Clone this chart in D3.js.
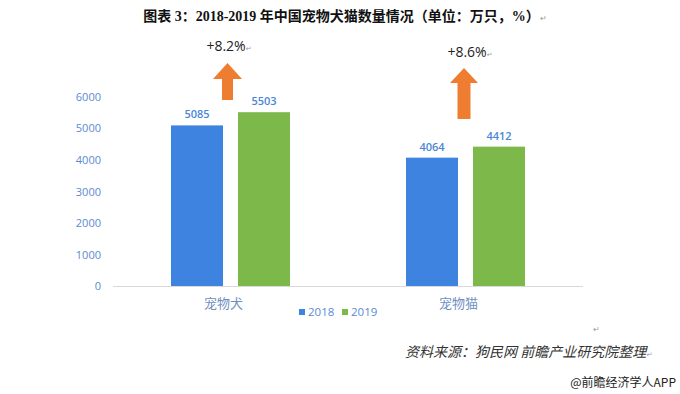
<!DOCTYPE html>
<html><head><meta charset="utf-8">
<script src="https://cdn.jsdelivr.net/npm/d3@7"></script>
<style>html,body{margin:0;padding:0;background:#fff;}svg{display:block;}</style>
</head><body>
<script>
const categories = ["宠物犬", "宠物猫"];
const years = ["2018", "2019"];
const values2018 = [5085, 4064];
const values2019 = [5503, 4412];
const growthLabels = ["+8.2%", "+8.6%"];
const yTicks = [0, 1000, 2000, 3000, 4000, 5000, 6000];
const titleText = "图表 3：2018-2019 年中国宠物犬猫数量情况（单位：万只，%）";
const sourceText = "资料来源：狗民网 前瞻产业研究院整理";
const brandText = "@前瞻经济学人APP";

const W = 680, H = 394;
const colors = {"2018": "#3f83e0", "2019": "#7db84a"};
const svg = d3.select("body").append("svg").attr("width", W).attr("height", H);

const x0 = d3.scaleBand().domain(categories).range([113, 583]).padding(0);
const x1 = d3.scaleBand().domain(years).range([58, 177]).paddingInner(0.224).paddingOuter(0);
const y = d3.scaleLinear().domain([0, 6000]).range([286, 96.5]);

// title
const t = svg.append("text").attr("x", 345).attr("y", 21).attr("text-anchor", "middle")
  .style("font-family", "'Liberation Serif','Noto Sans CJK SC',serif").style("font-weight", "bold")
  .style("font-size", "14px").attr("fill", "#111");
t.append("tspan").text(titleText);
t.append("tspan").text("↵").style("font-size", "8px").style("font-weight", "normal").attr("fill", "#999");

// y axis labels
const yAxis = d3.axisLeft(y).tickValues(yTicks).tickFormat(d3.format("d")).tickSize(0).tickPadding(0);
const gy = svg.append("g").attr("transform", "translate(101,0)").call(yAxis);
gy.select(".domain").remove();
gy.selectAll("text").style("font-family", "'Open Sans','DejaVu Sans',sans-serif").style("font-size", "11px")
  .attr("fill", "#5a8ad0").attr("dy", "0.35em");

// baseline
svg.append("line").attr("x1", 113).attr("x2", 583).attr("y1", y(0) + 0.5).attr("y2", y(0) + 0.5)
  .attr("stroke", "#d9d9d9").attr("stroke-width", 1);

const data = categories.map((c, i) => ({cat: c, vals: [
  {year: "2018", v: values2018[i]}, {year: "2019", v: values2019[i]}]}));

const g = svg.append("g").selectAll("g").data(data).join("g")
  .attr("transform", d => `translate(${x0(d.cat)},0)`);
g.selectAll("rect").data(d => d.vals).join("rect")
  .attr("x", d => x1(d.year)).attr("width", x1.bandwidth())
  .attr("y", d => y(d.v)).attr("height", d => y(0) - y(d.v))
  .attr("fill", d => colors[d.year]);
g.selectAll("text.val").data(d => d.vals).join("text").attr("class", "val")
  .attr("x", d => x1(d.year) + x1.bandwidth() / 2).attr("y", d => y(d.v) - 7)
  .attr("text-anchor", "middle").style("font-family", "'Open Sans','DejaVu Sans',sans-serif")
  .style("font-size", "11px").style("font-weight", "600").attr("fill", "#4a86d8").text(d => d.v);

// category labels
svg.selectAll("text.cat").data(categories).join("text").attr("class", "cat")
  .attr("x", d => x0(d) + x0.bandwidth() / 2 - 7).attr("y", 308).attr("text-anchor", "middle")
  .style("font-family", "'Noto Sans CJK SC',sans-serif").style("font-size", "13px")
  .attr("fill", "#6f8fbf").text(d => d);

// growth arrows (layout per category)
const arrowGeom = [
  {cx: 227.5, top: 63, neck: 79, bottom: 100, hw: 14.5, sw: 5.5, lx: 229, ly: 51},
  {cx: 464, top: 68, neck: 83, bottom: 119, hw: 14, sw: 6.5, lx: 470, ly: 57}
];
arrowGeom.forEach((a, i) => {
  const p = d3.path();
  p.moveTo(a.cx, a.top); p.lineTo(a.cx + a.hw, a.neck); p.lineTo(a.cx + a.sw, a.neck);
  p.lineTo(a.cx + a.sw, a.bottom); p.lineTo(a.cx - a.sw, a.bottom); p.lineTo(a.cx - a.sw, a.neck);
  p.lineTo(a.cx - a.hw, a.neck); p.closePath();
  svg.append("path").attr("d", p.toString()).attr("fill", "#ee7d31");
  const lt = svg.append("text").attr("x", a.lx).attr("y", a.ly).attr("text-anchor", "middle")
    .style("font-family", "'Open Sans','DejaVu Sans',sans-serif").style("font-size", "14px").attr("fill", "#222");
  lt.append("tspan").text(growthLabels[i]);
  lt.append("tspan").text("↵").style("font-size", "7px").attr("fill", "#999");
});

// legend
const lg = svg.append("g").selectAll("g").data(years).join("g")
  .attr("transform", (d, i) => `translate(${299 + i * 43},309)`);
lg.append("rect").attr("width", 6).attr("height", 6).attr("y", 0).attr("fill", d => colors[d]);
lg.append("text").attr("x", 9).attr("y", 6.5).style("font-family", "'Open Sans','DejaVu Sans',sans-serif")
  .style("font-size", "11.5px").attr("fill", "#5a8ad0").text(d => d);

// source
svg.append("text").attr("x", 593).attr("y", 332).style("font-size", "8px").attr("fill", "#999").text("↵");
const st = svg.append("text").attr("x", 405).attr("y", 357)
  .style("font-family", "'Noto Sans CJK SC',sans-serif").style("font-size", "14px").style("font-style", "italic")
  .attr("fill", "#333");
st.append("tspan").text(sourceText);
st.append("tspan").text("↵").style("font-size", "7px").attr("fill", "#999");

svg.append("text").attr("x", 676).attr("y", 387).attr("text-anchor", "end")
  .style("font-family", "'Noto Sans CJK SC',sans-serif").style("font-size", "12px").attr("fill", "#222")
  .text(brandText);
</script>
</body></html>
